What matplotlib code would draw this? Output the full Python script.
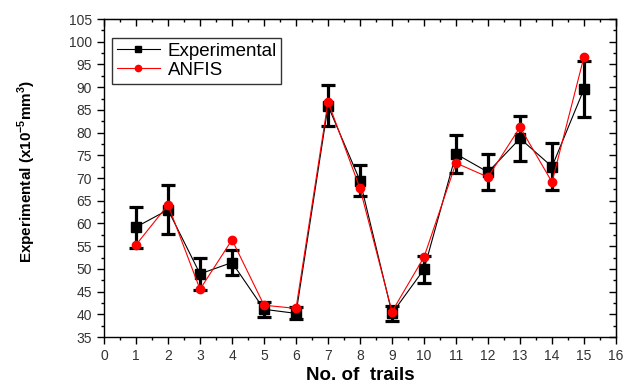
import matplotlib
matplotlib.use("Agg")
import matplotlib.pyplot as plt
from matplotlib.ticker import MultipleLocator

plt.rcParams['font.family'] = ['Liberation Sans', 'DejaVu Sans']
plt.rcParams['mathtext.fontset'] = 'custom'
plt.rcParams['mathtext.rm'] = 'Liberation Sans'
plt.rcParams['mathtext.bf'] = 'Liberation Sans:bold'

trials = [1, 2, 3, 4, 5, 6, 7, 8, 9, 10, 11, 12, 13, 14, 15]
experimental = [59.2, 63.0, 48.9, 51.4, 41.1, 40.2, 85.9, 69.4, 40.2, 49.9, 75.3, 71.3, 78.7, 72.5, 89.6]
exp_error = [4.5, 5.4, 3.6, 2.7, 1.6, 1.3, 4.5, 3.4, 1.7, 3.0, 4.1, 4.0, 5.0, 5.2, 6.1]
anfis = [55.3, 64.1, 45.5, 56.4, 42.0, 41.3, 86.8, 67.7, 40.6, 52.6, 73.3, 70.2, 81.2, 69.1, 96.7]

fig = plt.figure(figsize=(6.32, 3.88), dpi=100)
ax = fig.add_axes([0.1646, 0.1314, 0.8101, 0.8196])

ax.errorbar(trials, experimental, yerr=exp_error, fmt='none', ecolor='black',
            elinewidth=2.3, capsize=5, capthick=2.3, zorder=2)
ax.plot(trials, experimental, color='black', lw=0.8, marker='s', ms=6.5,
        label='Experimental', zorder=3)
ax.plot(trials, anfis, color='red', lw=0.8, marker='o', ms=6,
        label='ANFIS', zorder=4)

ax.set_xlim(0, 16)
ax.set_ylim(35, 105)
ax.xaxis.set_major_locator(MultipleLocator(1))
ax.xaxis.set_minor_locator(MultipleLocator(0.5))
ax.yaxis.set_major_locator(MultipleLocator(5))
ax.yaxis.set_minor_locator(MultipleLocator(2.5))
ax.tick_params(which='both', direction='out', top=False, right=False, labelsize=10,
               labelcolor='#333333', width=1)
ax.tick_params(which='major', length=5)
ax.tick_params(which='minor', length=2.5)
for sp in ax.spines.values():
    sp.set_linewidth(1)

# inward ticks on top and right
secx = ax.secondary_xaxis('top')
secx.xaxis.set_major_locator(MultipleLocator(1))
secx.xaxis.set_minor_locator(MultipleLocator(0.5))
secx.tick_params(which='both', direction='in', labeltop=False, width=1)
secx.tick_params(which='major', length=5)
secx.tick_params(which='minor', length=2.5)
secy = ax.secondary_yaxis('right')
secy.yaxis.set_major_locator(MultipleLocator(5))
secy.yaxis.set_minor_locator(MultipleLocator(2.5))
secy.tick_params(which='both', direction='in', labelright=False, width=1)
secy.tick_params(which='major', length=5)
secy.tick_params(which='minor', length=2.5)

ax.set_xlabel('No. of  trails', fontsize=13.5, fontweight='bold')
ax.xaxis.set_label_coords(0.5, -0.095)
ax.set_ylabel('Experimental (x10$^{\\mathbf{-5}}$mm$^{\\mathbf{3}}$)', fontsize=11,
              fontweight='bold')
ax.yaxis.set_label_coords(-0.128, 0.52)

leg = ax.legend(loc='upper left', bbox_to_anchor=(0.016, 0.94), fontsize=13.5,
                frameon=True, fancybox=False, edgecolor='black', borderpad=0.25,
                handlelength=2.3, handletextpad=0.4, labelspacing=0.1,
                borderaxespad=0, markerscale=0.75)
leg.get_frame().set_linewidth(1)

fig.savefig('out.png', dpi=100)
